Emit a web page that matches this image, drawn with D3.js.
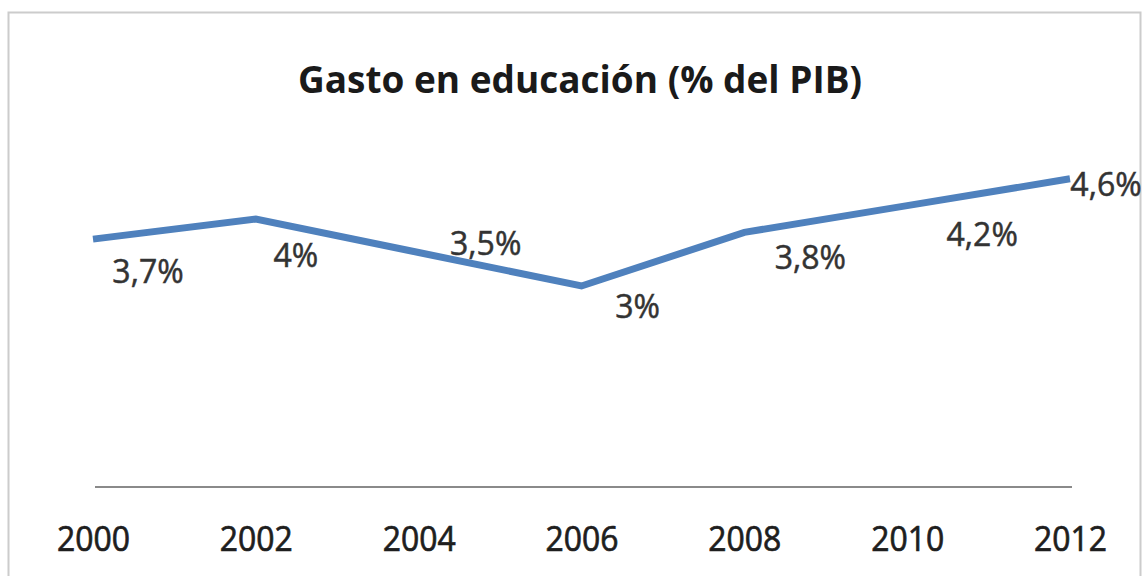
<!DOCTYPE html>
<html>
<head>
<meta charset="utf-8">
<script src="https://cdn.jsdelivr.net/npm/d3@7"></script>
<style>
  html, body { margin: 0; padding: 0; background: #ffffff; }
  svg { display: block; }
</style>
</head>
<body>
<svg id="chart" width="1145" height="576"></svg>
<script>
// ---- data ----
const title = "Gasto en educación (% del PIB)";
const years = ["2000", "2002", "2004", "2006", "2008", "2010", "2012"];
const values = [3.7, 4.0, 3.5, 3.0, 3.8, 4.2, 4.6];
const valueLabels = ["3,7%", "4%", "3,5%", "3%", "3,8%", "4,2%", "4,6%"];

// ---- layout (label offsets from their points, in px) ----
const labelOffsets = [[55, 31], [40, 35], [67, -10], [56, 19], [66, 24], [75, 28], [36, 5]];

const W = 1145, H = 576;
const svg = d3.select("#chart");
const font = "'Open Sans', 'DejaVu Sans', sans-serif";

// chart area border
svg.append("path")
  .attr("d", `M8.5,${H + 5} L8.5,12.5 L1140.5,12.5 L1140.5,${H + 5}`)
  .attr("fill", "none")
  .attr("stroke", "#cccccc")
  .attr("stroke-width", 2);

const x = d3.scalePoint().domain(years).range([93, 1070]);
const y = d3.scaleLinear().domain([0, 5]).range([487, 152]);

// category axis
const xAxis = d3.axisBottom(x).tickSize(0).tickPadding(0);
const gx = svg.append("g").attr("transform", "translate(0,487)").call(xAxis);
gx.select(".domain").attr("stroke", "#8a8a8a").attr("stroke-width", 2)
  .attr("d", `M${x(years[0]) + 2},0H${x(years[years.length - 1]) + 2}`);
gx.selectAll(".tick text")
  .attr("y", 64)
  .attr("dy", 0)
  .attr("fill", "#1e1e1e")
  .attr("stroke", "#1e1e1e")
  .attr("stroke-width", 0.7)
  .style("font-family", font)
  .style("font-size", "34px")
  .each(function () {
    const len = this.getComputedTextLength();
    if (len > 73) d3.select(this).attr("textLength", 73).attr("lengthAdjust", "spacingAndGlyphs");
  });

// title
const t = svg.append("text")
  .attr("x", 580)
  .attr("y", 93)
  .attr("text-anchor", "middle")
  .attr("fill", "#1a1a1a")
  .style("font-family", font)
  .style("font-weight", "bold")
  .style("font-size", "38px")
  .text(title);
if (t.node().getComputedTextLength() > 564) t.attr("textLength", 564).attr("lengthAdjust", "spacingAndGlyphs");

// line
const line = d3.line().x((d, i) => x(years[i])).y(d => y(d));
svg.append("path")
  .datum(values)
  .attr("d", line)
  .attr("fill", "none")
  .attr("stroke", "#4f81bd")
  .attr("stroke-width", 7)
  .attr("stroke-linejoin", "miter");

// data labels
svg.append("g").selectAll("text")
  .data(values)
  .join("text")
  .attr("x", (d, i) => x(years[i]) + labelOffsets[i][0])
  .attr("y", (d, i) => y(d) + labelOffsets[i][1])
  .attr("text-anchor", "middle")
  .attr("dominant-baseline", "central")
  .attr("fill", "#333333")
  .attr("stroke", "#333333")
  .attr("stroke-width", 0.5)
  .style("font-family", font)
  .style("font-size", "32px")
  .text((d, i) => valueLabels[i]);
</script>
</body>
</html>
